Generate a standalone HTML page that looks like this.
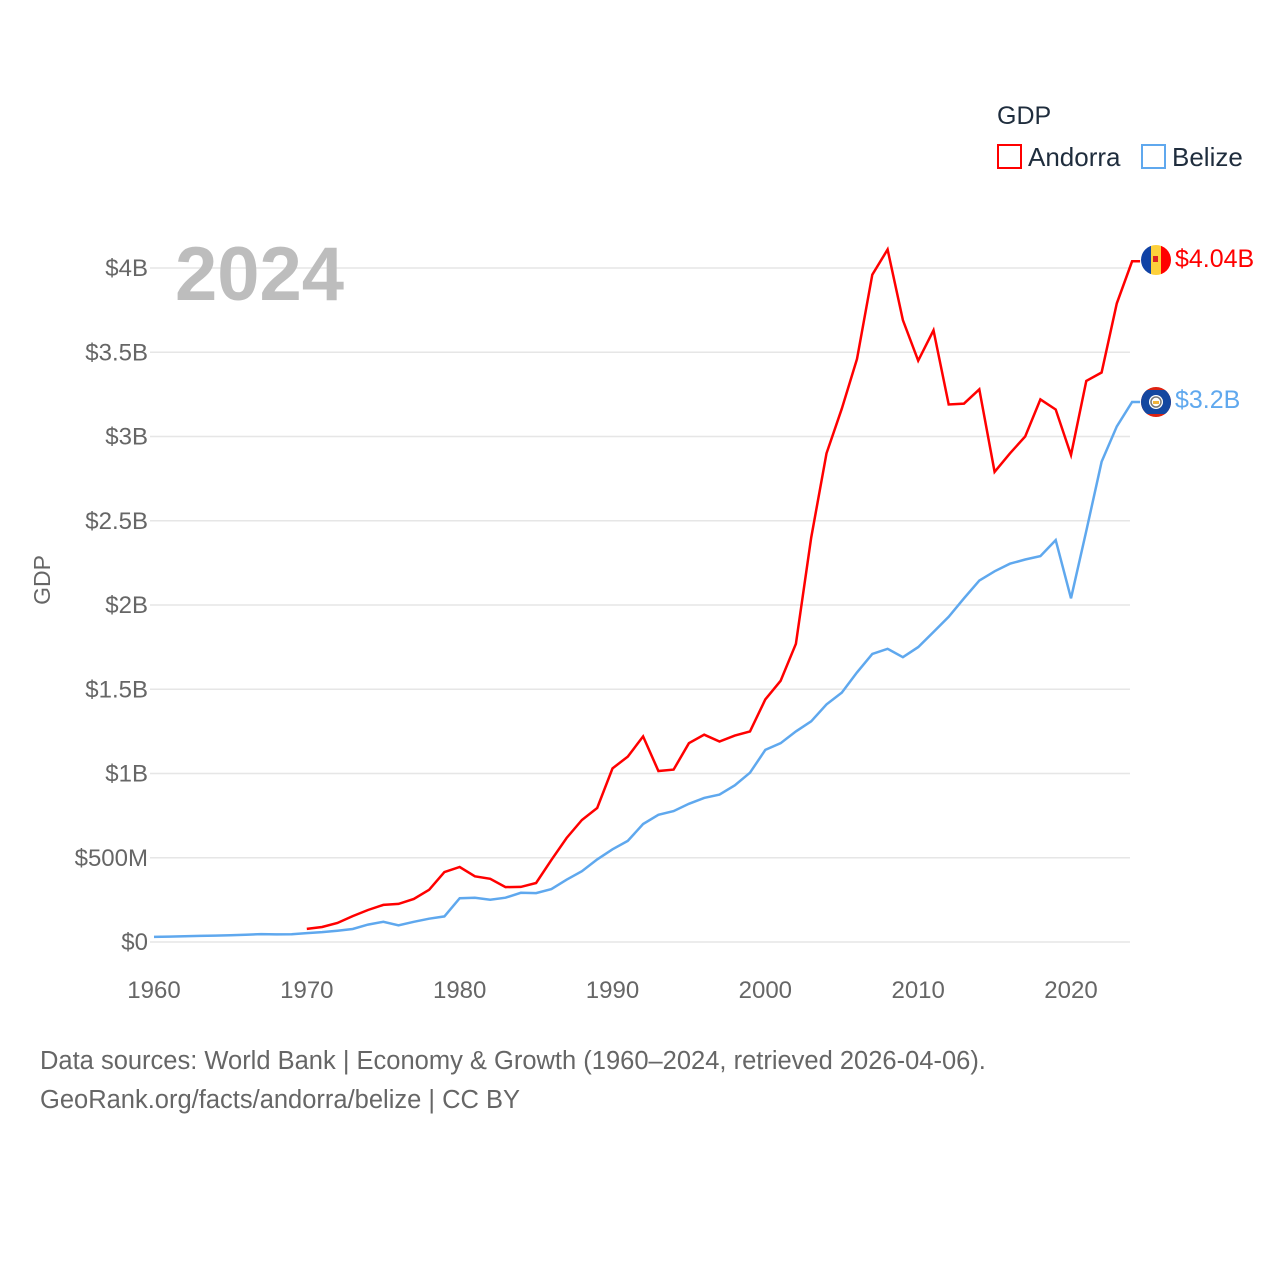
<!DOCTYPE html>
<html><head><meta charset="utf-8">
<style>
html,body{margin:0;padding:0;background:#fff;}
svg{display:block;font-family:"Liberation Sans",sans-serif;}
</style></head>
<body>
<svg id="chart" width="1280" height="1280" viewBox="0 0 1280 1280">
  <g id="grid"></g>
  <g id="yticks"></g>
  <g id="xticks"></g>
  <text x="175" y="300" font-size="76" font-weight="bold" fill="#bdbdbd">2024</text>
  <text transform="translate(50,580) rotate(-90)" text-anchor="middle" font-size="23" fill="#666">GDP</text>
  <g id="series"></g>
  <g>
    <text x="997" y="124" font-size="25" fill="#1f2d3d">GDP</text>
    <g>
      <rect x="998" y="145" width="23" height="23" fill="none" stroke="#ff0000" stroke-width="2"/>
      <text x="1028" y="166" font-size="26" fill="#1f2d3d">Andorra</text>
    </g>
    <g>
      <rect x="1142" y="145" width="23" height="23" fill="none" stroke="#5fa8ee" stroke-width="2"/>
      <text x="1172" y="166" font-size="26" fill="#1f2d3d">Belize</text>
    </g>
  </g>
  <g>
    <clipPath id="c1"><circle cx="1156" cy="260" r="15"/></clipPath>
    <g clip-path="url(#c1)">
      <rect x="1141" y="245" width="10" height="30" fill="#1042a5"/>
      <rect x="1151" y="245" width="10" height="30" fill="#fdd03b"/>
      <rect x="1161" y="245" width="10" height="30" fill="#f00"/>
      <rect x="1153" y="256" width="5" height="6" fill="#d22"/>
    </g>
  </g>
  <text x="1175" y="267" font-size="25" fill="#ff0000">$4.04B</text>
  <g>
    <clipPath id="c2"><circle cx="1156" cy="402" r="15"/></clipPath>
    <g clip-path="url(#c2)">
      <rect x="1141" y="387" width="30" height="30" fill="#d21"/>
      <rect x="1141" y="390" width="30" height="24" fill="#1447a0"/>
      <circle cx="1156" cy="402" r="7" fill="#fff"/>
      <circle cx="1156" cy="402" r="5" fill="none" stroke="#777" stroke-width="1.5"/>
      <rect x="1153" y="401" width="6" height="3" fill="#f2b33a"/>
    </g>
  </g>
  <text x="1175" y="408" font-size="25" fill="#5fa8ee">$3.2B</text>
  <text x="40" y="1069" font-size="25.5" fill="#666">Data sources: World Bank | Economy &amp; Growth (1960–2024, retrieved 2026-04-06).</text>
  <text x="40" y="1108" font-size="25.5" fill="#666">GeoRank.org/facts/andorra/belize | CC BY</text>
</svg>
<script>
const yTickValues = [0, 0.5, 1, 1.5, 2, 2.5, 3, 3.5, 4];
const yTickLabels = ["$0", "$500M", "$1B", "$1.5B", "$2B", "$2.5B", "$3B", "$3.5B", "$4B"];
const xTickYears = [1960, 1970, 1980, 1990, 2000, 2010, 2020];
const andorraStart = 1970;
const andorraGdp = [0.078,0.089,0.113,0.154,0.19,0.22,0.226,0.255,0.31,0.415,0.445,0.39,0.375,0.326,0.327,0.35,0.487,0.617,0.724,0.795,1.03,1.10,1.22,1.015,1.023,1.18,1.23,1.19,1.225,1.25,1.44,1.55,1.77,2.40,2.90,3.165,3.46,3.96,4.11,3.69,3.45,3.63,3.19,3.195,3.28,2.79,2.90,3.00,3.22,3.16,2.89,3.33,3.38,3.79,4.04];
const belizeStart = 1960;
const belizeGdp = [0.030,0.032,0.034,0.036,0.038,0.040,0.043,0.047,0.045,0.046,0.053,0.059,0.067,0.077,0.103,0.12,0.099,0.12,0.138,0.152,0.26,0.263,0.251,0.263,0.292,0.29,0.314,0.37,0.42,0.49,0.55,0.60,0.70,0.755,0.777,0.82,0.855,0.875,0.93,1.005,1.14,1.18,1.25,1.31,1.41,1.48,1.60,1.71,1.74,1.69,1.75,1.84,1.93,2.04,2.145,2.20,2.245,2.27,2.29,2.385,2.04,2.44,2.85,3.06,3.205];

const NS = "http://www.w3.org/2000/svg";
const xScale = yr => 154 + (yr - 1960) * (1071 - 154) / 60;
const yScale = v => 942 - v * 168.5;
function mk(tag, attrs, parent){ const e=document.createElementNS(NS,tag); for(const k in attrs) e.setAttribute(k,attrs[k]); parent.appendChild(e); return e; }

const grid=document.getElementById('grid'), yt=document.getElementById('yticks'), xt=document.getElementById('xticks'), ser=document.getElementById('series');
yTickValues.forEach((v,i)=>{
  const l=mk('line',{x1:150,x2:1130,y1:yScale(v),y2:yScale(v),stroke:'#e6e6e6','stroke-width':1.5},grid);
  
  
  const t=mk('text',{x:148,y:yScale(v)+8,'text-anchor':'end','font-size':24,fill:'#666'},yt);
  t.textContent=yTickLabels[i];
  
  
});
xTickYears.forEach(yr=>{
  const t=mk('text',{x:xScale(yr),y:998,'text-anchor':'middle','font-size':24,fill:'#666'},xt);
  t.textContent=yr;
  
  
});
function line(vals,start,color,name){
  const pts=vals.map((v,i)=>xScale(start+i).toFixed(1)+','+yScale(v).toFixed(1));
  const last=vals[vals.length-1];
  pts.push((xScale(start+vals.length-1)+8).toFixed(1)+','+yScale(last).toFixed(1));
  const p=mk('polyline',{points:pts.join(' '),fill:'none',stroke:color,'stroke-width':2.5,'stroke-linejoin':'miter'},ser);
  
  
}
line(belizeGdp,belizeStart,'#5fa8ee','belize-line');
line(andorraGdp,andorraStart,'#ff0000','andorra-line');
</script>
</body></html>
